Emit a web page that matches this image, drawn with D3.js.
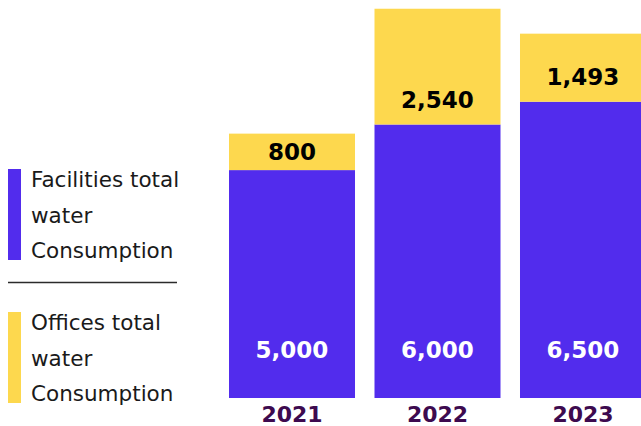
<!DOCTYPE html>
<html>
<head>
<meta charset="utf-8">
<script src="https://cdn.jsdelivr.net/npm/d3@7"></script>
<style>
  body { margin: 0; background: #fff; }
  svg { display: block; font-family: "DejaVu Sans", sans-serif; }
</style>
</head>
<body>
<div id="chart"></div>
<script>
// Data
const years = ['2021', '2022', '2023'];
const facilities = [5000, 6000, 6500];
const offices = [800, 2540, 1493];
const legendLines = [['Facilities total', 'water', 'Consumption'], ['Offices total', 'water', 'Consumption']];

const purple = '#522ced';
const yellow = '#fdd84e';
const yearColor = '#3d0a4f';

const width = 641, height = 426;

const svg = d3.select('#chart')
    .append('svg')
    .attr('width', width)
    .attr('height', height);

// Scales
const x = d3.scaleBand()
    .domain(years)
    .range([229, 646])
    .paddingInner(0.134)
    .paddingOuter(0);

const y = d3.scaleLinear()
    .domain([0, 8600])
    .range([398, 6]);

const rows = years.map((yr, i) => ({ year: yr, fac: facilities[i], off: offices[i] }));

// Stack
const stacked = d3.stack().keys(['fac', 'off'])(rows);
const colors = [purple, yellow];

const layers = svg.append('g')
    .selectAll('g')
    .data(stacked)
    .enter()
    .append('g')
    .attr('fill', (d, i) => colors[i]);

layers.selectAll('rect')
    .data(d => d)
    .enter()
    .append('rect')
    .attr('x', d => x(d.data.year))
    .attr('width', x.bandwidth())
    .attr('y', d => y(d[1]))
    .attr('height', d => y(d[0]) - y(d[1]));

const fmt = d3.format(',');

// Facilities values (white, bottom)
svg.append('g')
    .selectAll('text')
    .data(rows)
    .enter()
    .append('text')
    .attr('x', d => x(d.year) + x.bandwidth() / 2)
    .attr('y', 358)
    .attr('text-anchor', 'middle')
    .attr('fill', '#fff')
    .attr('font-weight', 700)
    .attr('font-size', 23)
    .text(d => fmt(d.fac));

// Offices values (black, inside yellow)
svg.append('g')
    .selectAll('text')
    .data(rows)
    .enter()
    .append('text')
    .attr('x', d => x(d.year) + x.bandwidth() / 2)
    .attr('y', d => {
        const top = y(d.fac + d.off), bottom = y(d.fac);
        return Math.max((top + bottom) / 2 + 8, bottom - 17);
    })
    .attr('text-anchor', 'middle')
    .attr('fill', '#000')
    .attr('font-weight', 700)
    .attr('font-size', 23)
    .text(d => fmt(d.off));

// Year labels
svg.append('g')
    .selectAll('text')
    .data(years)
    .enter()
    .append('text')
    .attr('x', d => x(d) + x.bandwidth() / 2)
    .attr('y', 422)
    .attr('text-anchor', 'middle')
    .attr('fill', yearColor)
    .attr('font-weight', 700)
    .attr('font-size', 22)
    .text(d => d);

// Legend
const legend = svg.append('g');
const legendTop = [169, 312];
legendLines.forEach((lines, i) => {
    legend.append('rect')
        .attr('x', 8)
        .attr('y', legendTop[i])
        .attr('width', 13)
        .attr('height', 91)
        .attr('fill', colors[i]);
    legend.append('text')
        .attr('x', 31)
        .attr('y', legendTop[i] + 18)
        .attr('fill', '#1a1a1a')
        .attr('font-size', 21.5)
        .selectAll('tspan')
        .data(lines)
        .enter()
        .append('tspan')
        .attr('x', 31)
        .attr('dy', (d, j) => j === 0 ? 0 : 35.5)
        .text(d => d);
});

legend.append('line')
    .attr('x1', 8)
    .attr('x2', 177)
    .attr('y1', 282.5)
    .attr('y2', 282.5)
    .attr('stroke', '#2b2b2b')
    .attr('stroke-width', 1.3);
</script>
</body>
</html>
